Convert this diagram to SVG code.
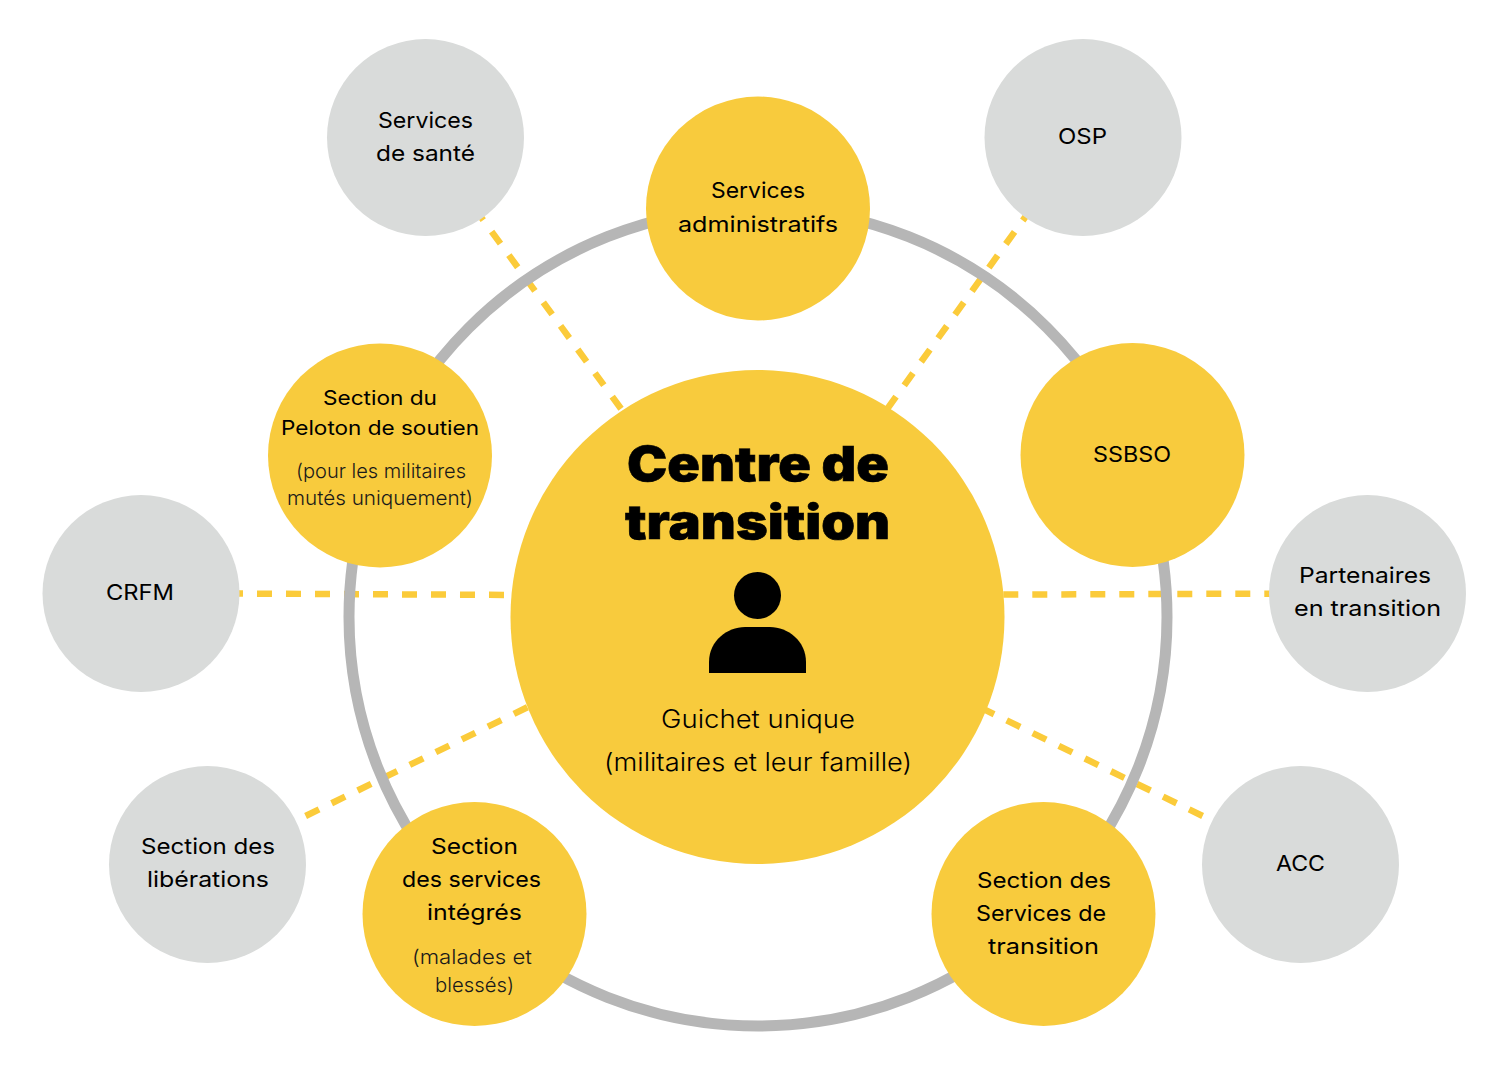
<svg xmlns="http://www.w3.org/2000/svg" width="1508" height="1071" viewBox="0 0 1508 1071">
<style>
text{font-family:"Inter","Liberation Sans",sans-serif;fill:#000}
.t{font-size:22px;font-weight:400}
.p{font-size:20px;font-weight:400}
.s{font-size:20px;font-weight:300;fill:#1a1a1a}
.m{font-size:25px;font-weight:300}
.h{font-size:48px;font-weight:900;stroke:#000;stroke-width:.6}
.y{fill:#F8CB3D}
.g{fill:#D9DBDA}
.d{stroke:#FBCB3A;stroke-width:6.5;stroke-dasharray:15 14;fill:none}
</style>
<rect width="1508" height="1071" fill="#fff"/>
<g id="connectors">
<line class="d" style="stroke-dasharray:15 14.2" x1="474.400" y1="208" x2="630" y2="421"/>
<line class="d" x1="1031.500" y1="208.300" x2="885" y2="412"/>
<line class="d" x1="228" y1="593.500" x2="520" y2="595"/>
<line class="d" x1="1003.300" y1="594.600" x2="1280" y2="593.600"/>
<line class="d" x1="305.600" y1="816" x2="530" y2="706"/>
<line class="d" x1="980.600" y1="707.700" x2="1202.700" y2="816"/>
<circle cx="758" cy="617" r="409" fill="none" stroke="#B6B6B6" stroke-width="11"/>
</g>
<g id="sante"><circle class="g" cx="425.500" cy="137.500" r="98.500"/>
<text class="t" x="378" y="128" textLength="95" lengthAdjust="spacingAndGlyphs">Services</text>
<text class="t" x="376" y="161" textLength="99" lengthAdjust="spacingAndGlyphs">de santé</text></g>
<g id="osp"><circle class="g" cx="1083" cy="137.500" r="98.500"/>
<text class="t" x="1058" y="144" textLength="49" lengthAdjust="spacingAndGlyphs">OSP</text></g>
<g id="crfm"><circle class="g" cx="141" cy="593.500" r="98.500"/>
<text class="t" x="106" y="600" textLength="68" lengthAdjust="spacingAndGlyphs">CRFM</text></g>
<g id="partenaires"><circle class="g" cx="1367.500" cy="593.500" r="98.500"/>
<text class="t" x="1299" y="583" textLength="132" lengthAdjust="spacingAndGlyphs">Partenaires</text>
<text class="t" x="1294" y="616" textLength="147" lengthAdjust="spacingAndGlyphs">en transition</text></g>
<g id="liberations"><circle class="g" cx="207.500" cy="864.500" r="98.500"/>
<text class="t" x="141" y="854" textLength="134" lengthAdjust="spacingAndGlyphs">Section des</text>
<text class="t" x="147" y="887" textLength="122" lengthAdjust="spacingAndGlyphs">libérations</text></g>
<g id="acc"><circle class="g" cx="1300.500" cy="864.500" r="98.500"/>
<text class="t" x="1276" y="871" textLength="49" lengthAdjust="spacingAndGlyphs">ACC</text></g>
<g id="administratifs"><circle class="y" cx="758" cy="208.500" r="112"/>
<text class="t" x="711" y="198" textLength="94" lengthAdjust="spacingAndGlyphs">Services</text>
<text class="t" x="678" y="232" textLength="160" lengthAdjust="spacingAndGlyphs">administratifs</text></g>
<g id="peloton"><circle class="y" cx="380" cy="455.500" r="112"/>
<text class="p" x="323" y="405" textLength="114" lengthAdjust="spacingAndGlyphs">Section du</text>
<text class="p" x="281" y="435" textLength="198" lengthAdjust="spacingAndGlyphs">Peloton de soutien</text>
<text class="s" x="296" y="478" textLength="170" lengthAdjust="spacingAndGlyphs">(pour les militaires</text>
<text class="s" x="287" y="505" textLength="186" lengthAdjust="spacingAndGlyphs">mutés uniquement)</text></g>
<g id="ssbso"><circle class="y" cx="1132.500" cy="455" r="112"/>
<text class="t" x="1093" y="462" textLength="78" lengthAdjust="spacingAndGlyphs">SSBSO</text></g>
<g id="integres"><circle class="y" cx="474.500" cy="914" r="112"/>
<text class="t" x="431" y="854" textLength="87" lengthAdjust="spacingAndGlyphs">Section</text>
<text class="t" x="402" y="887" textLength="139" lengthAdjust="spacingAndGlyphs">des services</text>
<text class="t" x="427" y="920" textLength="95" lengthAdjust="spacingAndGlyphs">intégrés</text>
<text class="s" x="412" y="964" textLength="120" lengthAdjust="spacingAndGlyphs">(malades et</text>
<text class="s" x="435" y="992" textLength="79" lengthAdjust="spacingAndGlyphs">blessés)</text></g>
<g id="services-transition"><circle class="y" cx="1043.500" cy="914" r="112"/>
<text class="t" x="977" y="888" textLength="134" lengthAdjust="spacingAndGlyphs">Section des</text>
<text class="t" x="976" y="921" textLength="130" lengthAdjust="spacingAndGlyphs">Services de</text>
<text class="t" x="988" y="954" textLength="111" lengthAdjust="spacingAndGlyphs">transition</text></g>
<g id="centre"><circle class="y" cx="757.500" cy="617" r="247"/>
<text class="h" x="627" y="481" textLength="262" lengthAdjust="spacingAndGlyphs">Centre de</text>
<text class="h" x="625" y="539" textLength="265" lengthAdjust="spacingAndGlyphs">transition</text>
<circle cx="757.500" cy="595.500" r="23.500" fill="#000"/>
<path d="M709 673V662C709 641 727 627 745 627H770C788 627 806 641 806 662V673Z" fill="#000"/>
<text class="m" x="661" y="728" textLength="194" lengthAdjust="spacingAndGlyphs">Guichet unique</text>
<text class="m" x="604" y="771" textLength="308" lengthAdjust="spacingAndGlyphs">(militaires et leur famille)</text></g>
</svg>
